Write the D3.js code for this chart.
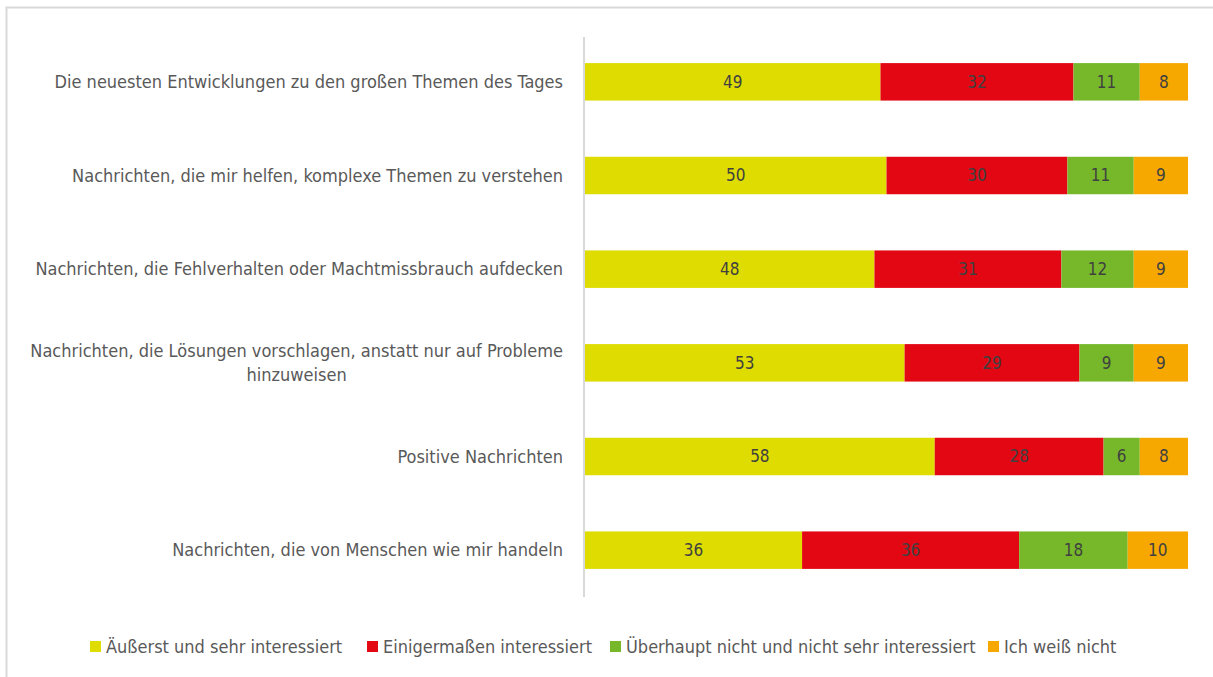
<!DOCTYPE html>
<html>
<head>
<meta charset="utf-8">
<script src="https://cdn.jsdelivr.net/npm/d3@7"></script>
<style>
  body { margin: 0; background: #fff; }
  svg text { font-family: "Liberation Sans Narrow", "DejaVu Sans Condensed", sans-serif; }
</style>
</head>
<body>
<div id="chart"></div>
<script>
// categories (top to bottom)
const categories = [
  ['Die neuesten Entwicklungen zu den großen Themen des Tages'],
  ['Nachrichten, die mir helfen, komplexe Themen zu verstehen'],
  ['Nachrichten, die Fehlverhalten oder Machtmissbrauch aufdecken'],
  ['Nachrichten, die Lösungen vorschlagen, anstatt nur auf Probleme', 'hinzuweisen'],
  ['Positive Nachrichten'],
  ['Nachrichten, die von Menschen wie mir handeln']
];
const seriesNames = ['Äußerst und sehr interessiert', 'Einigermaßen interessiert', 'Überhaupt nicht und nicht sehr interessiert', 'Ich weiß nicht'];
const sehr = [49, 50, 48, 53, 58, 36];
const einiger = [32, 30, 31, 29, 28, 36];
const nicht = [11, 11, 12, 9, 6, 18];
const weissNicht = [8, 9, 9, 9, 8, 10];
const colors = ['#DEDC00', '#E30613', '#76B82A', '#F6A800'];

const w = 1213, h = 677;
const svg = d3.select('#chart').append('svg').attr('width', w).attr('height', h);

// frame (only top and left edge visible)
svg.append('rect').attr('x', 6.5).attr('y', 7.5).attr('width', w + 20).attr('height', h + 20)
   .attr('fill', 'none').attr('stroke', '#d9d9d9').attr('stroke-width', 2);

const rows = categories.map((c, i) => ({
  idx: i, label: c,
  vals: [sehr[i], einiger[i], nicht[i], weissNicht[i]]
}));

const xScale = d3.scaleLinear().domain([0, 100]).range([585, 1188]);
const yScale = d3.scaleBand().domain(d3.range(rows.length)).range([35, 597])
                 .paddingInner(0.6).paddingOuter(0.3);

// segments
rows.forEach(r => {
  let acc = 0;
  const segs = r.vals.map((v, k) => { const s = { x0: acc, v: v, k: k }; acc += v; return s; });
  const g = svg.append('g');
  g.selectAll('rect').data(segs).enter().append('rect')
   .attr('x', d => xScale(d.x0))
   .attr('y', yScale(r.idx))
   .attr('width', d => xScale(d.x0 + d.v) - xScale(d.x0))
   .attr('height', yScale.bandwidth())
   .attr('fill', d => colors[d.k]);
  g.selectAll('text').data(segs).enter().append('text')
   .attr('x', d => xScale(d.x0 + d.v / 2))
   .attr('y', yScale(r.idx) + yScale.bandwidth() / 2)
   .attr('dy', '0.35em')
   .attr('text-anchor', 'middle')
   .attr('font-size', 17)
   .attr('fill', '#404040')
   .text(d => d.v);
});

// y axis line
svg.append('line').attr('x1', 584).attr('x2', 584).attr('y1', 37).attr('y2', 597)
   .attr('stroke', '#d9d9d9').attr('stroke-width', 2);

// category labels (right aligned block, multi-line lines centred)
rows.forEach(r => {
  const cy = yScale(r.idx) + yScale.bandwidth() / 2;
  const n = r.label.length;
  const t = svg.append('text')
    .attr('text-anchor', 'middle')
    .attr('font-size', 18)
    .attr('fill', '#595959');
  const spans = r.label.map((line, j) => t.append('tspan')
     .attr('y', cy + (j - (n - 1) / 2) * 24)
     .attr('dy', '0.35em')
     .text(line));
  const maxW = d3.max(spans, s => s.node().getComputedTextLength());
  spans.forEach(s => s.attr('x', 563 - maxW / 2));
});

// legend
const legendX = [90, 367, 610, 988];
const legend = svg.append('g');
seriesNames.forEach((name, i) => {
  legend.append('rect').attr('x', legendX[i]).attr('y', 641).attr('width', 11).attr('height', 11)
        .attr('fill', colors[i]);
  legend.append('text').attr('x', legendX[i] + 16).attr('y', 647).attr('dy', '0.35em')
        .attr('font-size', 18).attr('fill', '#595959').text(name);
});
</script>
</body>
</html>
